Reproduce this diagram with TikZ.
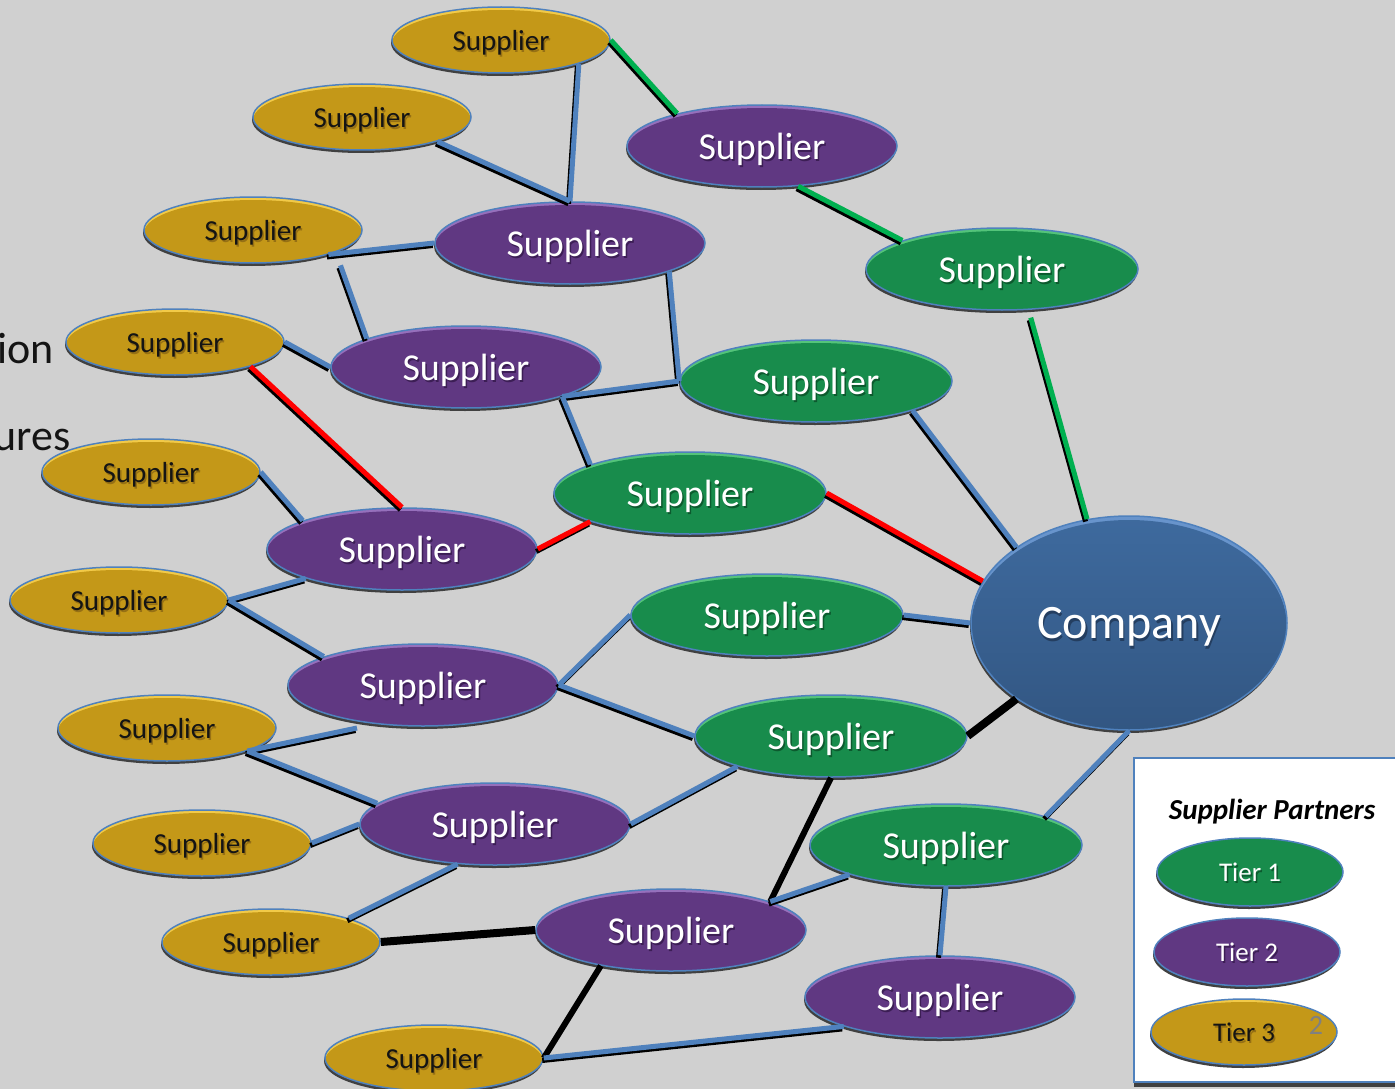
\documentclass[tikz,border=0pt]{standalone}
\usepackage{fontspec}
\setmainfont{Carlito}
\usetikzlibrary{shapes.geometric,shadows}

\definecolor{slidegray}{RGB}{208,208,208}
\definecolor{edgeblue}{RGB}{79,129,189}
\definecolor{goldfill}{RGB}{196,152,24}
\definecolor{goldlight}{RGB}{242,202,72}
\definecolor{goldshade}{RGB}{150,112,20}
\definecolor{purplefill}{RGB}{96,56,130}
\definecolor{purplelight}{RGB}{150,112,188}
\definecolor{purpleshade}{RGB}{60,30,85}
\definecolor{greenfill}{RGB}{24,140,76}
\definecolor{greenlight}{RGB}{84,196,122}
\definecolor{greenshade}{RGB}{12,90,46}
\definecolor{companytop}{RGB}{62,106,158}
\definecolor{companybottom}{RGB}{50,86,130}
\definecolor{companylight}{RGB}{104,148,204}
\definecolor{companyshade}{RGB}{36,62,96}
\definecolor{shadowgray}{RGB}{64,64,64}
\definecolor{linkgreen}{RGB}{0,176,80}
\definecolor{textdark}{RGB}{20,20,20}

\tikzset{
  blob/.style n args={5}{ellipse, inner sep=0pt, draw=edgeblue, line width=1.5pt,
    fill=#2, minimum width=2*#3, minimum height=2*#4, text depth=0pt,
    execute at begin node={\def\shcolor{#5}},
    drop shadow={shadow xshift=-1pt, shadow yshift=-3pt, fill=shadowgray, opacity=1},
    path picture={\fill[#1] ([yshift=-3pt]path picture bounding box.center)
      ellipse [x radius=#3, y radius=#4];}},
  tierthree/.style={blob={goldfill}{goldlight}{109pt}{33pt}{goldshade}, text=textdark,
    font=\fontsize{29pt}{31pt}\selectfont},
  tiertwo/.style={blob={purplefill}{purplelight}{135pt}{41pt}{purpleshade}, text=white,
    font=\fontsize{38pt}{40pt}\selectfont},
  tierone/.style={blob={greenfill}{greenlight}{136pt}{41pt}{greenshade}, text=white,
    font=\fontsize{38pt}{40pt}\selectfont},
  company/.style={ellipse, inner sep=0pt, draw=edgeblue, line width=1.5pt,
    fill=companylight, minimum width=316pt, minimum height=214pt, text=white,
    text depth=0pt, font=\fontsize{48pt}{52pt}\selectfont,
    execute at begin node={\def\shcolor{companyshade}},
    drop shadow={shadow xshift=-1pt, shadow yshift=-3pt, fill=shadowgray, opacity=1},
    path picture={\shade[top color=companytop, bottom color=companybottom]
      ([yshift=-4pt]path picture bounding box.center)
      ellipse [x radius=158pt, y radius=107pt];}},
  keytext/.style={font=\fontsize{27pt}{29pt}\selectfont},
  bluelink/.style={draw=edgeblue, line width=5pt},
  greenlink/.style={draw=linkgreen, line width=5pt},
  redlink/.style={draw=red, line width=5pt},
  blacklink/.style={draw=black, line width=6pt},
}

% text with a soft offset shadow
\newcommand{\shtext}[1]{%
  \makebox[0pt][l]{\hspace{1.5pt}\raisebox{-2.5pt}{\textcolor{\shcolor}{#1}}}#1}

% coloured connector with its black shadow
\newcommand{\suplink}[3]{%
  \begin{scope}[transform canvas={shift={(-1.5pt,-2.5pt)}}]
    \draw[#1, draw=black] (#2) -- (#3);
  \end{scope}
  \draw[#1] (#2) -- (#3);}

\begin{document}
\begin{tikzpicture}[x=1pt,y=-1pt]
\useasboundingbox (0,0) rectangle (1395,1089);
\clip (0,0) rectangle (1395,1089);
\fill[slidegray] (0,0) rectangle (1395,1089);

% cut-off slide text
\node[anchor=base east, inner sep=0pt, text=textdark,
  font=\fontsize{44pt}{48pt}\selectfont] (cutone) at (54,363) {ion};
\node[anchor=base east, inner sep=0pt, text=textdark,
  font=\fontsize{44pt}{48pt}\selectfont] (cuttwo) at (71,450) {ures};

% tier 3
\node[tierthree] (t3a) at (501,40) {\shtext{Supplier}};
\node[tierthree] (t3b) at (362,117) {\shtext{Supplier}};
\node[tierthree] (t3c) at (253,230) {\shtext{Supplier}};
\node[tierthree] (t3d) at (175,342) {\shtext{Supplier}};
\node[tierthree] (t3e) at (151,472) {\shtext{Supplier}};
\node[tierthree] (t3f) at (119,600) {\shtext{Supplier}};
\node[tierthree] (t3g) at (167,728) {\shtext{Supplier}};
\node[tierthree] (t3h) at (202,843) {\shtext{Supplier}};
\node[tierthree] (t3i) at (271,942) {\shtext{Supplier}};
\node[tierthree] (t3j) at (434,1058) {\shtext{Supplier}};

% tier 2
\node[tiertwo] (p1) at (762,146) {\shtext{Supplier}};
\node[tiertwo] (p2) at (570,243) {\shtext{Supplier}};
\node[tiertwo] (p3) at (466,367) {\shtext{Supplier}};
\node[tiertwo] (p4) at (402,549) {\shtext{Supplier}};
\node[tiertwo] (p5) at (423,685) {\shtext{Supplier}};
\node[tiertwo] (p6) at (495,824) {\shtext{Supplier}};
\node[tiertwo] (p7) at (671,930) {\shtext{Supplier}};
\node[tiertwo] (p8) at (940,997) {\shtext{Supplier}};

% tier 1
\node[tierone] (g1) at (1002,269) {\shtext{Supplier}};
\node[tierone] (g2) at (816,381) {\shtext{Supplier}};
\node[tierone] (g3) at (690,493) {\shtext{Supplier}};
\node[tierone] (g4) at (767,615) {\shtext{Supplier}};
\node[tierone] (g5) at (831,736) {\shtext{Supplier}};
\node[tierone] (g6) at (946,845) {\shtext{Supplier}};

\node[company] (co) at (1129,623) {\shtext{Company}};

\coordinate (loose) at (357,728);

% connectors
\suplink{greenlink}{t3a.east}{p1.159}
\suplink{bluelink}{t3a.-17}{p2.north}
\suplink{bluelink}{t3b.-18}{p2.north}
\suplink{bluelink}{t3c.-18}{p2.west}
\suplink{bluelink, shorten <=14pt}{t3c.-15}{p3.164}
\suplink{greenlink}{p1.-48}{g1.164}
\suplink{greenlink, shorten <=8pt}{g1.-57}{co.112}
\suplink{bluelink}{p2.-16}{g2.west}
\suplink{bluelink}{p3.-17}{g2.west}
\suplink{bluelink}{t3d.east}{p3.west}
\suplink{bluelink}{p3.-17}{g3.164}
\suplink{bluelink}{g2.-17}{co.146}
\suplink{redlink}{t3d.-18}{p4.north}
\suplink{redlink}{g3.east}{co.164}
\suplink{redlink}{p4.east}{g3.196}
\suplink{bluelink}{t3e.east}{p4.164}
\suplink{bluelink}{t3f.east}{p4.197}
\suplink{bluelink}{t3f.east}{p5.164}
\suplink{bluelink}{p5.east}{g4.west}
\suplink{bluelink}{g4.east}{co.west}
\suplink{bluelink}{p5.east}{g5.west}
\draw[blacklink, line width=8pt] (g5.east) -- (co.214);
\suplink{bluelink}{t3g.-16}{loose}
\suplink{bluelink}{t3g.-16}{p6.170}
\suplink{bluelink}{t3h.east}{p6.west}
\suplink{bluelink}{p6.east}{g5.198}
\suplink{bluelink}{t3i.17}{p6.227}
\draw[blacklink, line width=8pt] (t3i.east) -- (p7.west);
\draw[blacklink] (g5.south) -- (p7.16);
\suplink{bluelink}{p7.16}{g6.197}
\suplink{bluelink}{g6.south}{p8.north}
\suplink{bluelink}{co.south}{g6.16}
\draw[blacklink] (p7.207) -- (t3j.east);
\suplink{bluelink}{t3j.east}{p8.197}

% legend
\node[rectangle, anchor=north west, draw=edgeblue, line width=1.5pt, fill=white,
  minimum width=290pt, minimum height=324pt,
  drop shadow={shadow xshift=0pt, shadow yshift=-5pt, fill=shadowgray, opacity=1}]
  (legend) at (1133,757) {};
\node[font=\fontsize{29pt}{31pt}\selectfont\bfseries\itshape] (legendtitle)
  at (1272,812) {Supplier Partners};
\node[tierone, minimum width=186pt, minimum height=68pt, keytext] (keyone)
  at (1250,872) {\shtext{Tier 1}};
\node[tiertwo, minimum width=186pt, minimum height=68pt, keytext] (keytwo)
  at (1247,952) {\shtext{Tier 2}};
\node[tierthree, minimum width=186pt, minimum height=66pt, keytext] (keythree)
  at (1244,1032) {\shtext{Tier 3}};
\node[text=gray, font=\fontsize{28pt}{30pt}\selectfont] (slideno)
  at (1316,1025) {2};
\end{tikzpicture}
\end{document}
